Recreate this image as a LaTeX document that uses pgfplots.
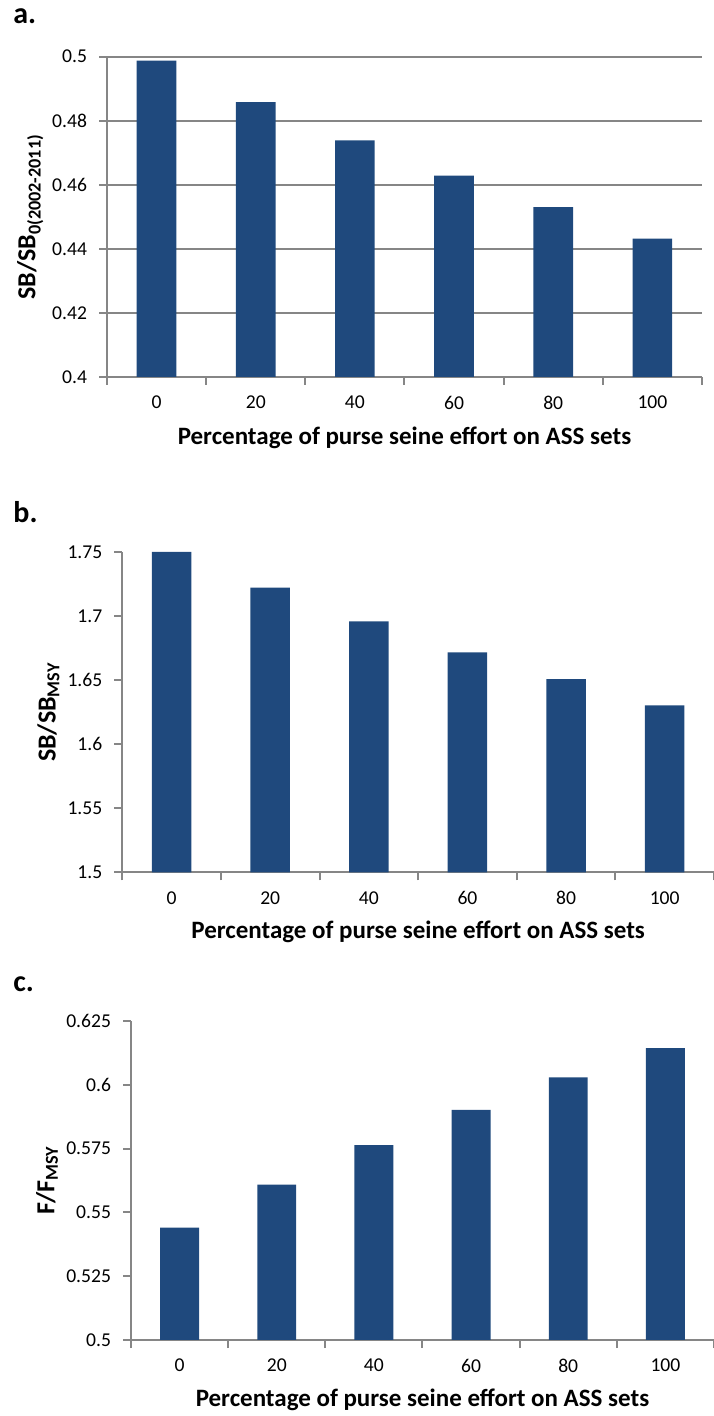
\documentclass[border=0pt]{standalone}
\usepackage{pgfplots}
\pgfplotsset{compat=1.18}
\usepackage{fontspec}
\setmainfont{Carlito}
\definecolor{barblue}{RGB}{31,73,125}
\definecolor{axgrey}{RGB}{134,134,134}
\pgfplotsset{
  mybar/.style={
    scale only axis, anchor=south west,
    ybar, bar width=0.4,
    xmin=-0.5, xmax=5.5,
    axis x line*=bottom, axis y line*=left,
    axis line style={draw=axgrey, line width=1bp, -},
    tick align=outside,
    xtick={0,...,5}, xticklabels={0,20,40,60,80,100},
    major x tick style={draw=none},
    minor xtick={-0.5,0.5,1.5,2.5,3.5,4.5,5.5},
    minor x tick style={draw=axgrey, line width=1bp},
    minor tick length=4bp,
    major tick length=4bp,
    ytick style={draw=axgrey, line width=1bp},
    tick label style={font=\fontsize{9.8bp}{11bp}\selectfont},
    /pgf/number format/assume math mode=true,
    yticklabel style={xshift=-2.5bp},
    xticklabel style={yshift=-2bp},
    xlabel={Percentage of purse seine effort on ASS sets},
    xlabel style={font=\bfseries\fontsize{12.5bp}{15bp}\selectfont, anchor=center},
    ylabel style={font=\bfseries\fontsize{13bp}{15bp}\selectfont, anchor=center},
    clip=true,
  },
  barplot/.style={fill=barblue, draw=none},
}
\begin{document}
\begin{tikzpicture}
\useasboundingbox (0,0) rectangle (357bp,708bp);
% panel labels
\node[anchor=base west, inner sep=0pt, font=\bfseries\fontsize{15bp}{18bp}\selectfont] at (6.5bp,696bp) {a.};
\node[anchor=base west, inner sep=0pt, font=\bfseries\fontsize{15bp}{18bp}\selectfont] at (6.5bp,446.5bp) {b.};
\node[anchor=base west, inner sep=0pt, font=\bfseries\fontsize{15bp}{18bp}\selectfont] at (6.5bp,212bp) {c.};

% panel a
\begin{axis}[mybar,
  at={(53.5bp,519.5bp)}, width=297.5bp, height=160.15bp,
  ymin=0.4, ymax=0.5, ytick={0.4,0.42,...,0.5},
  ymajorgrids, major grid style={draw=axgrey, line width=1bp},
  ylabel={SB/SB\textsubscript{0(2002-2011)}},
  ylabel style={at={(axis description cs:-0.129,0.5)}},
  xlabel style={at={(axis description cs:0.5,-0.19)}},
  /pgf/number format/precision=3,
]
\addplot[barplot] coordinates {(0,0.4988) (1,0.4858) (2,0.4739) (3,0.4629) (4,0.4530) (5,0.4432)};
\end{axis}

% panel b
\begin{axis}[mybar,
  at={(61.15bp,271.85bp)}, width=295.85bp, height=160.15bp,
  ymin=1.5, ymax=1.75, ytick={1.5,1.55,...,1.75},
  ylabel={SB/SB\textsubscript{MSY}},
  ylabel style={at={(axis description cs:-0.125,0.5)}},
  xlabel style={at={(axis description cs:0.5,-0.187)}},
  /pgf/number format/precision=3,
]
\addplot[barplot] coordinates {(0,1.7500) (1,1.7221) (2,1.6958) (3,1.6716) (4,1.6508) (5,1.6302)};
\end{axis}

% panel c
\begin{axis}[mybar,
  at={(65.5bp,38bp)}, width=291.5bp, height=159.5bp,
  ymin=0.5, ymax=0.625, ytick={0.5,0.525,0.55,0.575,0.6,0.625},
  ylabel={F/F\textsubscript{MSY}},
  ylabel style={at={(axis description cs:-0.144,0.5)}},
  xlabel style={at={(axis description cs:0.5,-0.188)}},
  /pgf/number format/precision=3,
]
\addplot[barplot] coordinates {(0,0.5440) (1,0.5609) (2,0.5764) (3,0.5902) (4,0.6029) (5,0.6144)};
\end{axis}
\end{tikzpicture}
\end{document}
